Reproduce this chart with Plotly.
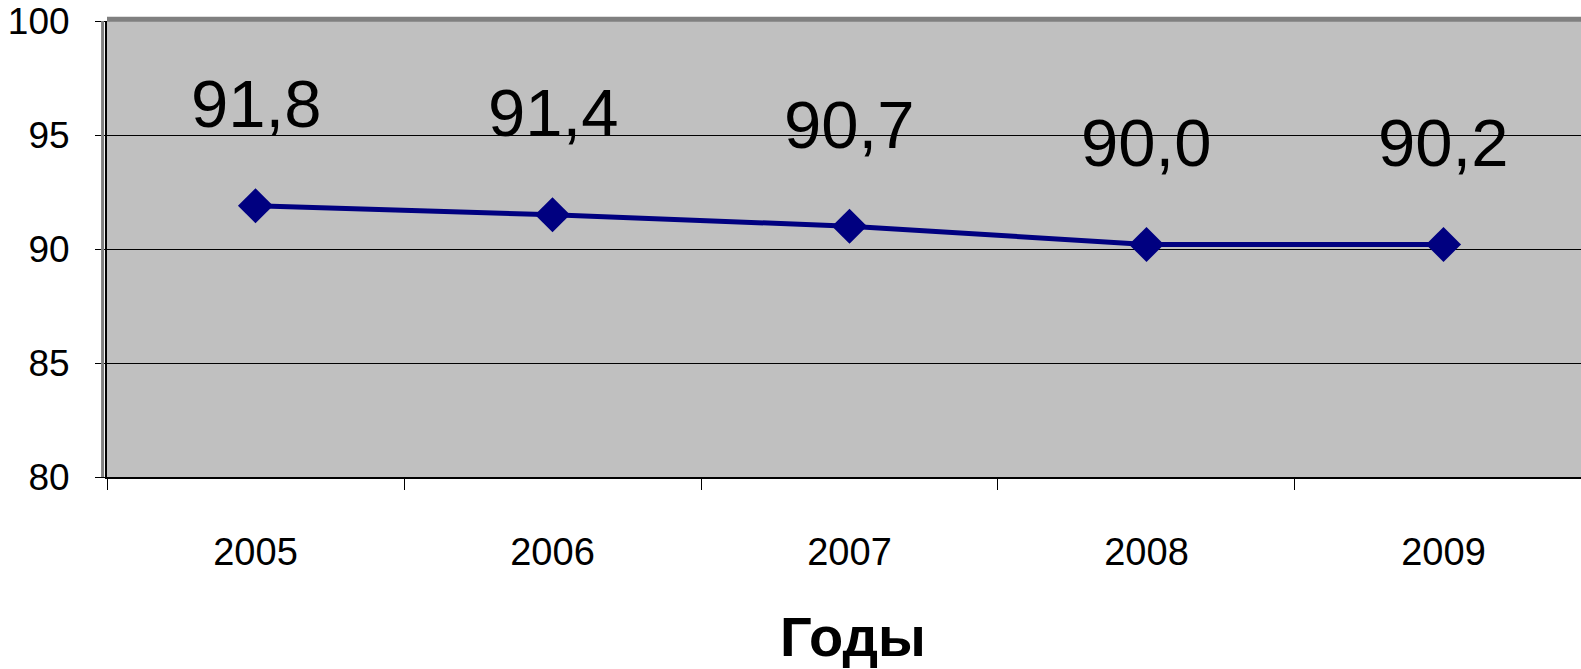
import plotly.graph_objects as go

years = ["2005", "2006", "2007", "2008", "2009"]
values = [91.9, 91.5, 91.0, 90.2, 90.2]
labels = ["91,8", "91,4", "90,7", "90,0", "90,2"]
y_ticks = [80, 85, 90, 95, 100]
axis_title = "Годы"

FONT = "Liberation Sans, Arial, sans-serif"

W, H = 1581, 669

fig = go.Figure()
fig.add_trace(go.Scatter(
    x=years, y=values, mode="lines+markers",
    line=dict(color="#000080", width=5),
    marker=dict(symbol="diamond", size=27, color="#000080"),
    hoverinfo="skip", showlegend=False,
))

for i, (v, t) in enumerate(zip(values, labels)):
    fig.add_annotation(x=i, y=v, xref="x", yref="y", text=t, showarrow=False, yshift=102,
                       xanchor="center", yanchor="middle",
                       font=dict(family=FONT, size=67, color="black"))

fig.add_annotation(xref="paper", yref="paper", x=0.506, y=-0.35, text="<b>" + axis_title + "</b>",
                   showarrow=False, xanchor="center", yanchor="middle",
                   font=dict(family=FONT, size=56, color="black"))

# top and left borders of plot area
fig.add_shape(type="line", xref="paper", yref="paper", x0=0, x1=1, y0=1.004, y1=1.004,
              line=dict(color="#808080", width=5))
fig.add_shape(type="line", xref="paper", yref="paper", x0=-0.003, x1=-0.003, y0=0, y1=1,
              line=dict(color="#808080", width=3))

fig.update_layout(
    width=W, height=H,
    margin=dict(l=107, r=0, t=21, b=192),
    paper_bgcolor="white", plot_bgcolor="#C0C0C0",
    font=dict(family=FONT, color="black"),
    xaxis=dict(
        type="category", range=[-0.5, 4.463],
        showgrid=False, zeroline=False,
        showline=True, linecolor="black", linewidth=2,
        ticks="outside", tickson="boundaries", ticklen=11, tickcolor="black", tickwidth=1,
        tickfont=dict(family=FONT, size=38, color="black"),
        ticklabelstandoff=40,
    ),
    yaxis=dict(
        range=[80, 100], tickvals=y_ticks,
        showgrid=True, gridcolor="black", gridwidth=1,
        zeroline=False,
        showline=True, linecolor="black", linewidth=2,
        ticks="outside", ticklen=10, tickcolor="black", tickwidth=1,
        tickfont=dict(family=FONT, size=37, color="black"),
        ticklabelstandoff=18,
    ),
)

fig.write_html("out.html",
               config={"displayModeBar": False},
               post_script="document.body.style.margin='0px';document.body.style.overflow='hidden';")
